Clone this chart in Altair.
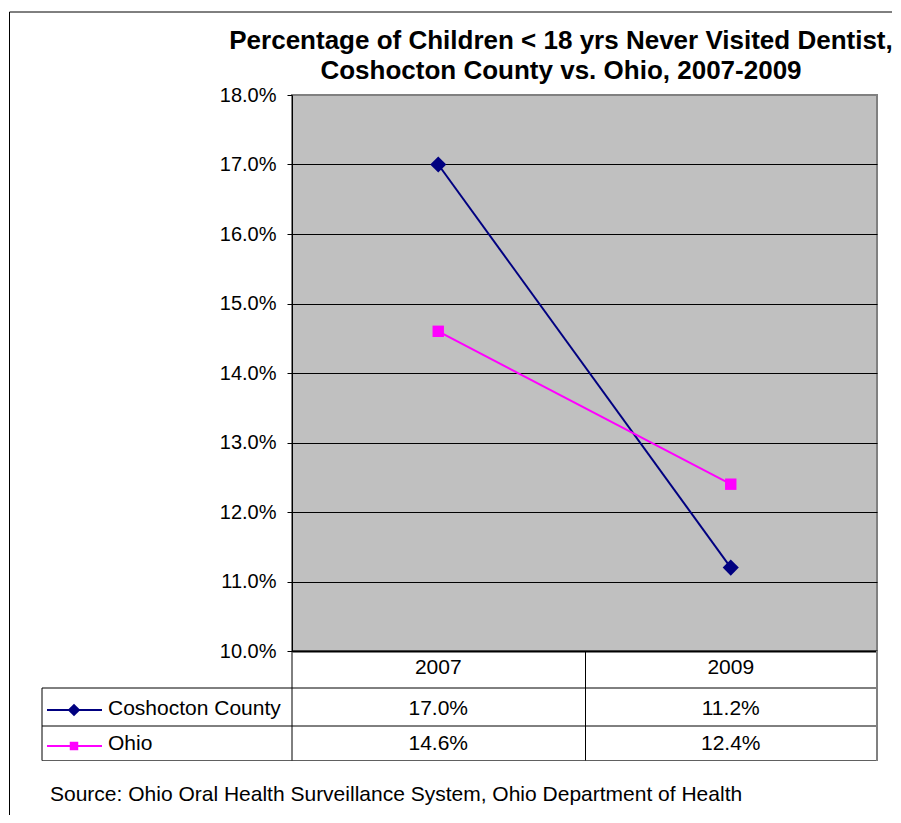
import altair as alt
import pandas as pd

# ---------------- data ----------------
years = ["2007", "2009"]
series_names = ["Coshocton County", "Ohio"]
coshocton = [0.170, 0.112]
ohio = [0.146, 0.124]
series_values = [coshocton, ohio]
series_colors = ["#000080", "#FF00FF"]
series_shapes = ["diamond", "square"]
y_ticks = [0.10, 0.11, 0.12, 0.13, 0.14, 0.15, 0.16, 0.17, 0.18]
title_lines = [
    "Percentage of Children < 18 yrs Never Visited Dentist,",
    "Coshocton County vs. Ohio, 2007-2009",
]
source_text = "Source: Ohio Oral Health Surveillance System, Ohio Department of Health"

# ---------------- layout ----------------
W, H = 585, 556
FONT = "Liberation Sans"
marker_sizes = [260, 130]
key_marker_sizes = [160, 72]
row_baselines = [620, 655]
row_centers = [615, 651]

rows = [
    {"year": y, "series": s, "value": v}
    for s, vals in zip(series_names, series_values)
    for y, v in zip(years, vals)
]
df = pd.DataFrame(rows)
one = pd.DataFrame({"k": [0]})

x_enc = alt.X(
    "year:N",
    sort=years,
    scale=alt.Scale(type="point", padding=0.5, domain=years),
    axis=alt.Axis(labels=False, ticks=False, title=None, grid=False,
                  domainColor="black", domainWidth=2),
)
y_enc = alt.Y(
    "value:Q",
    scale=alt.Scale(domain=[0.10, 0.18], nice=False, zero=False),
    axis=alt.Axis(
        values=y_ticks, format=".1%", title=None,
        labelFontSize=20, labelFont=FONT, labelColor="black",
        tickSize=5, tickColor="black", labelPadding=11,
        domainColor="black", domainWidth=1,
        gridColor={"condition": {"test": "datum.value >= 0.1795", "value": "#808080"},
                   "value": "black"},
        gridWidth=1,
    ),
)
color_enc = alt.Color("series:N", scale=alt.Scale(domain=series_names, range=series_colors),
                      legend=None)

layers = []

# lines
layers.append(alt.Chart(df).mark_line(strokeWidth=2).encode(x=x_enc, y=y_enc, color=color_enc))

# markers + table rows per series
for i, s in enumerate(series_names):
    sub = alt.Chart(df).transform_filter(alt.datum.series == s)
    layers.append(
        sub.mark_point(shape=series_shapes[i], filled=True, opacity=1, size=marker_sizes[i])
        .encode(x=x_enc, y=y_enc, color=color_enc)
    )
    layers.append(
        sub.mark_text(font=FONT, fontSize=21, color="black", align="center", baseline="alphabetic")
        .encode(x=x_enc, y=alt.value(row_baselines[i]), text=alt.Text("value:Q", format=".1%"))
    )
    layers.append(
        alt.Chart(pd.DataFrame({"series": [s]}))
        .mark_text(font=FONT, fontSize=21, color="black", align="left", baseline="alphabetic")
        .encode(x=alt.value(-184), y=alt.value(row_baselines[i]), text="series:N")
    )
    layers.append(
        alt.Chart(one).mark_rule(color=series_colors[i], strokeWidth=2)
        .encode(x=alt.value(-245), x2=alt.value(-190), y=alt.value(row_centers[i]))
    )
    layers.append(
        alt.Chart(one).mark_point(shape=series_shapes[i], filled=True, opacity=1,
                                  size=key_marker_sizes[i], color=series_colors[i])
        .encode(x=alt.value(-218), y=alt.value(row_centers[i]))
    )

# header row (categories)
layers.append(
    alt.Chart(pd.DataFrame({"year": years}))
    .mark_text(font=FONT, fontSize=21, color="black", align="center", baseline="alphabetic")
    .encode(x=x_enc, y=alt.value(579), text="year:N")
)


def hrule(y, x1, x2, color="black", w=1):
    return alt.Chart(one).mark_rule(color=color, strokeWidth=w).encode(
        x=alt.value(x1), x2=alt.value(x2), y=alt.value(y))


def vrule(x, y1, y2, color="black", w=1):
    return alt.Chart(one).mark_rule(color=color, strokeWidth=w).encode(
        x=alt.value(x), y=alt.value(y1), y2=alt.value(y2))


# table grid
layers += [
    hrule(593, -250, W),
    hrule(631, -250, W),
    hrule(665.5, -250, W, color="#606060"),
    vrule(-250, 593, 665.5),
    vrule(0, H, 665.5),
    vrule(293.5, H, 665.5),
    vrule(W, H, 666, color="#808080", w=2),
]

# outer frame
layers += [
    vrule(-282.5, -83, 720),
    hrule(-83, -282.5, 600),
]

# title
for j, line in enumerate(title_lines):
    layers.append(
        alt.Chart(one).mark_text(font=FONT, fontSize=26, fontWeight="bold", color="black",
                                 align="center", baseline="alphabetic")
        .encode(x=alt.value(269), y=alt.value(-46 + 30 * j), text=alt.value(line))
    )

# source
layers.append(
    alt.Chart(one).mark_text(font=FONT, fontSize=21, color="black", align="left",
                             baseline="alphabetic")
    .encode(x=alt.value(-242), y=alt.value(706), text=alt.value(source_text))
)

chart = (
    alt.layer(*layers)
    .properties(
        width=W, height=H,
        autosize=alt.AutoSizeParams(type="none"),
        padding={"left": 284, "top": 87, "right": 16, "bottom": 164},
        background="white",
    )
    .configure_view(fill="#C0C0C0", stroke="#808080", strokeWidth=2)
)

chart.save("out.html", embed_options={"renderer": "svg", "actions": False})
